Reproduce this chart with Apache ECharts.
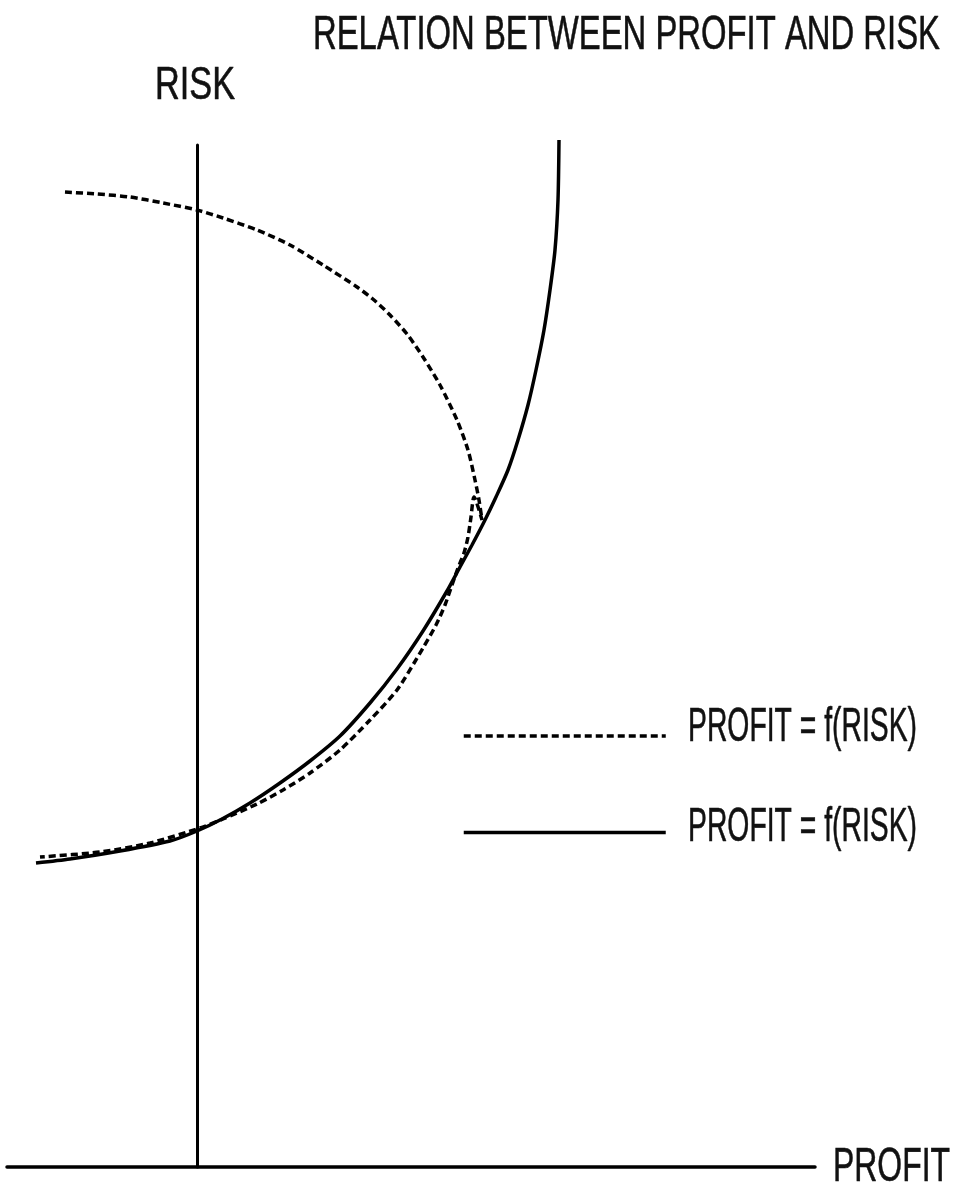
<!DOCTYPE html>
<html><head><meta charset="utf-8">
<script src="https://cdn.jsdelivr.net/npm/echarts@6/dist/echarts.min.js"></script>
<style>html,body{margin:0;padding:0;background:#fff}#c{width:957px;height:1197px}</style>
</head><body><div id="c"></div>
<script>
// ---- data (x = profit, y = risk, arbitrary units) ----
const titleText = 'RELATION BETWEEN PROFIT AND RISK';
const xAxisName = 'PROFIT';
const yAxisName = 'RISK';
const legendLabels = ['PROFIT = f(RISK)', 'PROFIT = f(RISK)'];
const seriesIds = ['PROFIT = f(RISK) [dashed]', 'PROFIT = f(RISK) [solid]'];

const dashedCurve = [
  [-13.2, 97.5], [-10.0, 97.3], [-6.7, 97.0], [-3.4, 96.4], [0, 95.7], [2.6, 94.9],
  [6.0, 93.7], [9.3, 92.2], [12.6, 90.2], [16.0, 88.0], [17.7, 86.7], [19.3, 85.2],
  [21.0, 83.3], [22.6, 81.0], [24.3, 78.2], [26.0, 74.7], [27.1, 71.7], [27.8, 68.7],
  [28.2, 66.7], [28.5, 64.7],
  [27.7, 67.0], [27.4, 65.0], [27.1, 63.0], [26.7, 61.4], [26.1, 59.9], [25.5, 58.2],
  [24.8, 56.2], [23.9, 54.2], [22.6, 51.9], [20.0, 47.7], [17.3, 44.7], [14.3, 41.7],
  [11.3, 39.4], [8.6, 37.7], [6.0, 36.3], [2.6, 34.8], [0.3, 33.9], [-4.7, 32.4],
  [-9.7, 31.5], [-15.7, 31.0]
];
const solidCurve = [
  [-16.1, 30.4], [-12.7, 30.8], [-7.7, 31.6], [-2.7, 32.6], [0, 33.6], [2.5, 34.8],
  [5.3, 36.4], [8.3, 38.4], [11.3, 40.6], [14.3, 43.1], [17.3, 46.4], [20.0, 49.8],
  [22.6, 53.6], [25.0, 57.6], [26.3, 60.0], [27.5, 62.2], [28.7, 64.5], [29.9, 67.0],
  [31.1, 69.7], [32.1, 72.7], [33.1, 76.2], [33.9, 79.7], [34.7, 83.7], [35.3, 87.7],
  [35.8, 91.7], [36.1, 96.7], [36.2, 102.7]
];

// ---- rendering ----
const FONT = '"Liberation Sans", Arial, sans-serif';
const mctx = document.createElement('canvas').getContext('2d');
function fitText(text, x, yc, width, size) {
  mctx.font = size + 'px ' + FONT;
  const w = mctx.measureText(text).width;
  return {
    type: 'text', x: x, y: yc, scaleX: width / w, silent: true,
    style: {
      text: text, fill: '#111', stroke: '#111', lineWidth: 0.6,
      fontSize: size, fontFamily: FONT, align: 'left', verticalAlign: 'middle'
    }
  };
}

const chart = echarts.init(document.getElementById('c'), null, { renderer: 'canvas' });
chart.setOption({
  backgroundColor: '#fff',
  animation: false,
  grid: { left: 7, right: 142, top: 145, bottom: 30, containLabel: false },
  xAxis: {
    type: 'value', min: -19, max: 61.8,
    axisLine: { show: true, onZero: true, lineStyle: { color: '#000', width: 3.5 } },
    axisTick: { show: false }, axisLabel: { show: false }, splitLine: { show: false }
  },
  yAxis: {
    type: 'value', min: 0, max: 102.2,
    axisLine: { show: true, onZero: true, lineStyle: { color: '#000', width: 3 } },
    axisTick: { show: false }, axisLabel: { show: false }, splitLine: { show: false }
  },
  legend: {
    orient: 'vertical', left: 457, top: 724,
    itemWidth: 202, itemHeight: 14, itemGap: 84,
    itemStyle: { opacity: 0 },
    lineStyle: { width: 3.5 },
    formatter: function () { return ''; },
    textStyle: { fontSize: 14 },
    data: seriesIds
  },
  series: [
    {
      name: seriesIds[0], type: 'line', data: dashedCurve, smooth: 0.25, symbol: 'none',
      clip: false, itemStyle: { color: '#000' },
      lineStyle: { color: '#000', width: 3.5, type: [7, 4] }
    },
    {
      name: seriesIds[1], type: 'line', data: solidCurve, smooth: 0.25, symbol: 'none',
      clip: false, itemStyle: { color: '#000' },
      lineStyle: { color: '#000', width: 3.5, type: 'solid' }
    }
  ],
  graphic: [
    fitText(titleText, 313, 35, 627, 49),
    fitText(yAxisName, 155, 86, 80, 47),
    fitText(xAxisName, 833, 1167, 117, 49),
    fitText(legendLabels[0], 688, 728, 229, 48),
    fitText(legendLabels[1], 688, 828, 229, 48)
  ]
});
</script>
</body></html>
